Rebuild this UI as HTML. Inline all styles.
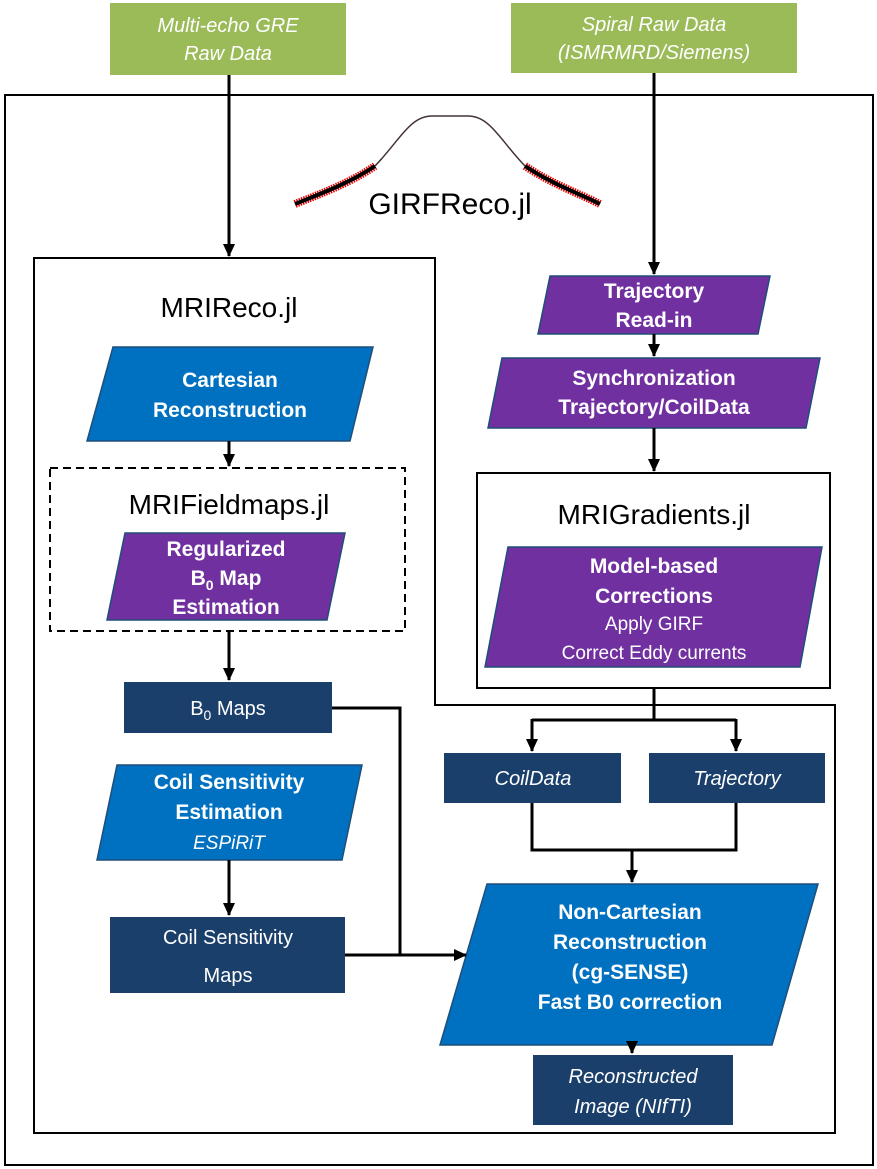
<!DOCTYPE html>
<html><head><style>body{margin:0;background:#fff}svg{display:block}text{font-family:"Liberation Sans",sans-serif}</style></head><body>
<svg width="877" height="1169" viewBox="0 0 877 1169" xmlns="http://www.w3.org/2000/svg">
<defs>
<marker id="b" markerWidth="14" markerHeight="12" refX="12" refY="6" orient="auto" markerUnits="userSpaceOnUse"><path d="M0,0 L13,6 L0,12 z" fill="#000"/></marker></defs>
<rect x="5" y="95" width="868" height="1070" fill="none" stroke="#000" stroke-width="2"/>
<path d="M34,258 H435 V705 H835 V1133 H34 Z" fill="none" stroke="#000" stroke-width="2"/>
<rect x="477" y="473" width="353" height="215" fill="none" stroke="#000" stroke-width="2"/>
<rect x="50" y="468" width="355" height="163" fill="none" stroke="#000" stroke-width="2" stroke-dasharray="8,5"/>
<!-- GIRF curve -->
<path d="M295,204 C320,194 350,183 375,166" fill="none" stroke="#e00" stroke-width="8" stroke-dasharray="1.5,1"/>
<path d="M525,166 C550,183 580,194 600,204" fill="none" stroke="#e00" stroke-width="8" stroke-dasharray="1.5,1"/>
<path d="M295,204 C320,194 350,183 375,166" fill="none" stroke="#000" stroke-width="4"/>
<path d="M525,166 C550,183 580,194 600,204" fill="none" stroke="#000" stroke-width="4"/>
<path d="M375,166 C400,140 410,116 432,116 L468,116 C490,116 500,140 525,166" fill="none" stroke="#433" stroke-width="1.5"/>
<text x="450" y="214" font-size="30" text-anchor="middle">GIRFReco.jl</text>
<text x="229" y="317" font-size="28" text-anchor="middle">MRIReco.jl</text>
<text x="229" y="514" font-size="28" text-anchor="middle">MRIFieldmaps.jl</text>
<text x="654" y="524" font-size="28" text-anchor="middle">MRIGradients.jl</text>
<!-- green -->
<rect x="110" y="3" width="236" height="72" fill="#9bbb59"/>
<text fill="#fff" font-size="20" font-style="italic" text-anchor="middle"><tspan x="228" y="32">Multi-echo GRE</tspan><tspan x="228" y="60">Raw Data</tspan></text>
<rect x="511" y="3" width="286" height="70" fill="#9bbb59"/>
<text fill="#fff" font-size="20" font-style="italic" text-anchor="middle"><tspan x="654" y="31">Spiral Raw Data</tspan><tspan x="654" y="59">(ISMRMRD/Siemens)</tspan></text>
<!-- parallelograms -->
<g stroke="#1f4e79" stroke-width="1.5">
<polygon points="113,347 373,347 350,441 87,441" fill="#0070c0"/>
<polygon points="550,276 770,276 758,334 538,334" fill="#7030a0"/>
<polygon points="502,358 820,358 806,428 488,428" fill="#7030a0"/>
<polygon points="125,533 345,533 327,620 107,620" fill="#7030a0"/>
<polygon points="508,547 822,547 800,667 485,667" fill="#7030a0"/>
<polygon points="117,765 362,765 342,860 97,860" fill="#0070c0"/>
<polygon points="487,884 818,884 772,1045 440,1045" fill="#0070c0"/>
</g>
<g fill="#fff" font-weight="bold" font-size="21" text-anchor="middle">
<text><tspan x="230" y="387">Cartesian</tspan><tspan x="230" y="417">Reconstruction</tspan></text>
<text><tspan x="654" y="298">Trajectory</tspan><tspan x="654" y="327">Read-in</tspan></text>
<text><tspan x="654" y="385">Synchronization</tspan><tspan x="654" y="414">Trajectory/CoilData</tspan></text>
<text><tspan x="226" y="556">Regularized</tspan><tspan x="226" y="585">B<tspan font-size="14" dy="5">0</tspan><tspan dy="-5"> Map</tspan></tspan><tspan x="226" y="614">Estimation</tspan></text>
<text><tspan x="654" y="573">Model-based</tspan><tspan x="654" y="603">Corrections</tspan></text>
<text font-weight="normal" font-size="19"><tspan x="654" y="630">Apply GIRF</tspan><tspan x="654" y="659">Correct Eddy currents</tspan></text>
<text><tspan x="229" y="789">Coil Sensitivity</tspan><tspan x="229" y="819">Estimation</tspan></text>
<text font-weight="normal" font-style="italic" font-size="19" x="229" y="849">ESPiRiT</text>
<text><tspan x="630" y="919">Non-Cartesian</tspan><tspan x="630" y="949">Reconstruction</tspan><tspan x="630" y="979">(cg-SENSE)</tspan><tspan x="630" y="1009">Fast B0 correction</tspan></text>
</g>
<!-- rects -->
<g fill="#1b3f6b">
<rect x="124" y="682" width="208" height="51"/>
<rect x="110" y="917" width="235" height="76"/>
<rect x="444" y="753" width="177" height="50"/>
<rect x="649" y="753" width="176" height="50"/>
<rect x="533" y="1055" width="200" height="70"/>
</g>
<g fill="#fff" font-size="20" text-anchor="middle">
<text x="228" y="715">B<tspan font-size="14" dy="5">0</tspan><tspan dy="-5"> Maps</tspan></text>
<text><tspan x="228" y="944">Coil Sensitivity</tspan><tspan x="228" y="982">Maps</tspan></text>
<text font-style="italic" x="533" y="785">CoilData</text>
<text font-style="italic" x="737" y="785">Trajectory</text>
<text font-style="italic"><tspan x="633" y="1083">Reconstructed</tspan><tspan x="633" y="1113">Image (NIfTI)</tspan></text>
</g>
<!-- connectors -->
<g fill="none" stroke="#000" stroke-width="3">
<path d="M229,75 V256" marker-end="url(#b)"/>
<path d="M654,73 V274" marker-end="url(#b)"/>
<path d="M654,334 V356" marker-end="url(#b)"/>
<path d="M654,428 V471" marker-end="url(#b)"/>
<path d="M229,441 V466" marker-end="url(#b)"/>
<path d="M229,631 V680" marker-end="url(#b)"/>
<path d="M654,688 V720"/>
<path d="M532,720 H736"/>
<path d="M532,719 V751" marker-end="url(#b)"/>
<path d="M736,719 V751" marker-end="url(#b)"/>
<path d="M532,803 V850 H736 V803"/>
<path d="M632,850 V882" marker-end="url(#b)"/>
<path d="M332,708 H400 V955"/>
<path d="M345,955 H466" marker-end="url(#b)"/>
<path d="M229,860 V915" marker-end="url(#b)"/>
<path d="M632,1045 V1053" marker-end="url(#b)"/>
</g>
</svg>
</body></html>
